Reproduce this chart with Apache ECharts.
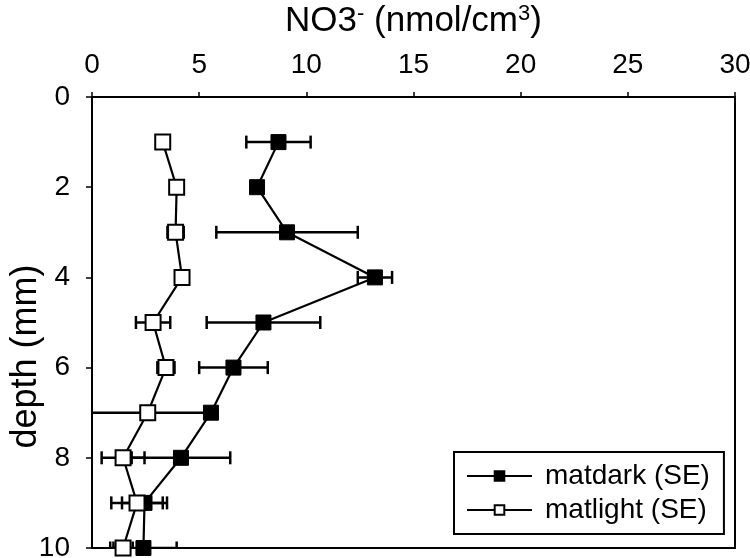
<!DOCTYPE html>
<html>
<head>
<meta charset="utf-8">
<script src="https://cdn.jsdelivr.net/npm/echarts@6/dist/echarts.min.js"></script>
<style>
html, body { margin: 0; padding: 0; background: #fff; }
#chart { width: 750px; height: 558px; }
</style>
</head>
<body>
<div id="chart"></div>
<script>
// depth in mm, NO3- in nmol/cm3
var depths = [1, 2, 3, 4, 5, 6, 7, 8, 9, 10]
var darkMean = [8.7, 7.7, 9.1, 13.2, 8.0, 6.6, 5.55, 4.15, 2.45, 2.4]
var darkSE = [1.5, 0.2, 3.3, 0.8, 2.65, 1.6, 0.2, 2.3, 1.05, 1.55]
var lightMean = [3.3, 3.95, 3.9, 4.2, 2.85, 3.45, 2.6, 1.45, 2.1, 1.45]
var lightSE = [0.2, 0.2, 0.38, 0.2, 0.8, 0.4, 2.8, 1.0, 1.2, 0.45]
var xTicks = [0, 5, 10, 15, 20, 25, 30]
var yTicks = [0, 2, 4, 6, 8, 10]

var FONT = 'Liberation Sans, Arial, sans-serif'

function points(means) {
  return means.map(function (m, i) { return [m, depths[i]] })
}
function errData(means, se) {
  return means.map(function (m, i) { return [m - se[i], m + se[i], depths[i]] })
}

function renderErr(params, api) {
  var lo = api.coord([api.value(0), api.value(2)])
  var hi = api.coord([api.value(1), api.value(2)])
  var h = 6.5
  var style = { stroke: '#000', lineWidth: 2.5 }
  return {
    type: 'group',
    children: [
      { type: 'line', shape: { x1: lo[0], y1: lo[1], x2: hi[0], y2: hi[1] }, style: style },
      { type: 'line', shape: { x1: lo[0], y1: lo[1] - h, x2: lo[0], y2: lo[1] + h }, style: style },
      { type: 'line', shape: { x1: hi[0], y1: hi[1] - h, x2: hi[0], y2: hi[1] + h }, style: style }
    ]
  }
}

var chart = echarts.init(document.getElementById('chart'))
chart.setOption({
  animation: false,
  backgroundColor: '#fff',
  textStyle: { fontFamily: FONT, color: '#000' },
  grid: {
    left: 92, right: 15, top: 97, bottom: 10,
    containLabel: false,
    outerBoundsMode: 'none',
    show: true, borderColor: '#000', borderWidth: 2, backgroundColor: '#fff'
  },
  legend: {
    orient: 'vertical',
    left: 454, top: 452,
    padding: [10, 14, 10, 12],
    borderColor: '#000', borderWidth: 2,
    backgroundColor: '#fff',
    itemWidth: 65, itemHeight: 12, itemGap: 6,
    textStyle: { fontFamily: FONT, fontSize: 28, color: '#000', padding: [0, 0, 0, 8] },
    data: ['matdark (SE)', 'matlight (SE)']
  },
  xAxis: {
    type: 'value',
    position: 'top',
    min: 0, max: 30, interval: 5,
    name: 'NO3{s|-} (nmol/cm{s|3})',
    nameLocation: 'middle',
    nameGap: 58,
    nameMoveOverlap: false,
    nameTextStyle: {
      fontFamily: FONT, fontSize: 35, color: '#000',
      rich: { s: { fontFamily: FONT, fontSize: 22, color: '#000', verticalAlign: 'top', padding: [0, 0, 14, 0] } }
    },
    axisLine: { show: true, lineStyle: { color: '#000', width: 2 } },
    axisTick: { show: true, inside: false, length: 5, lineStyle: { color: '#000', width: 1.5 } },
    axisLabel: { fontFamily: FONT, fontSize: 28, color: '#000', margin: 18,
      customValues: xTicks },
    splitLine: { show: false }
  },
  yAxis: {
    type: 'value',
    inverse: true,
    min: 0, max: 10, interval: 2,
    name: 'depth (mm)',
    nameLocation: 'middle',
    nameGap: 48,
    nameMoveOverlap: false,
    nameTextStyle: { fontFamily: FONT, fontSize: 36, color: '#000', padding: [0, 68, 0, 0] },
    axisLine: { show: true, lineStyle: { color: '#000', width: 2 } },
    axisTick: { show: true, inside: false, length: 6, lineStyle: { color: '#000', width: 1.5 } },
    axisLabel: { fontFamily: FONT, fontSize: 28, color: '#000', margin: 22,
      customValues: yTicks },
    splitLine: { show: false }
  },
  series: [
    {
      name: 'errDark',
      type: 'custom',
      renderItem: renderErr,
      encode: { x: [0, 1], y: 2 },
      data: errData(darkMean, darkSE),
      clip: true,
      z: 1,
      silent: true
    },
    {
      name: 'errLight',
      type: 'custom',
      renderItem: renderErr,
      encode: { x: [0, 1], y: 2 },
      data: errData(lightMean, lightSE),
      clip: true,
      z: 1,
      silent: true
    },
    {
      name: 'matdark (SE)',
      type: 'line',
      data: points(darkMean),
      symbol: 'rect',
      symbolSize: 15,
      lineStyle: { color: '#000', width: 2.2 },
      itemStyle: { color: '#000', borderColor: '#000', borderWidth: 1 },
      z: 3
    },
    {
      name: 'matlight (SE)',
      type: 'line',
      data: points(lightMean),
      symbol: 'rect',
      symbolSize: 15,
      showAllSymbol: true,
      lineStyle: { color: '#000', width: 2.2 },
      itemStyle: { color: '#fff', borderColor: '#000', borderWidth: 2 },
      z: 4
    }
  ]
})
</script>
</body>
</html>
